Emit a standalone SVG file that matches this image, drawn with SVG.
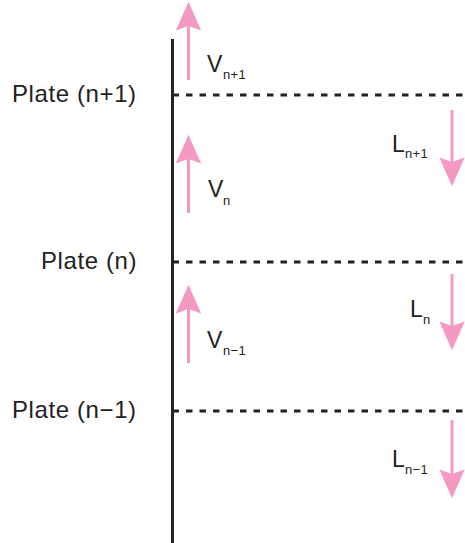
<svg xmlns="http://www.w3.org/2000/svg" width="465" height="543" viewBox="0 0 465 543">
  <defs>
    <marker id="head" markerUnits="userSpaceOnUse" markerWidth="30" markerHeight="30" viewBox="0 -12 26 24" refX="4" refY="0" orient="auto" overflow="visible">
      <path d="M25,0 L0,-11 L4,0 L0,11 Z" fill="#F49AC2"/>
    </marker>
  </defs>
  <style>
    .col { stroke: #222; stroke-width: 3; fill: none; }
    .plate { stroke: #222; stroke-width: 3; stroke-dasharray: 6.5 7; fill: none; }
    .flow { stroke: #F49AC2; stroke-width: 3; fill: none; marker-end: url(#head); }
    .lbl { font-family: "Liberation Sans", Arial, sans-serif; font-size: 24px; letter-spacing: 0.6px; fill: #222; }
    .sym { font-family: "Liberation Sans", Arial, sans-serif; font-size: 23px; fill: #222; }
    .sub { font-size: 13px; letter-spacing: 0.3px; }
  </style>
  <rect width="465" height="543" fill="#fff"/>

  <g id="column">
    <line class="col" x1="172.5" y1="39" x2="172.5" y2="543"/>
  </g>

  <g id="plate-n-plus-1">
    <line class="plate" x1="172.5" y1="95" x2="465" y2="95"/>
    <text class="lbl" x="12" y="102">Plate (n+1)</text>
  </g>
  <g id="plate-n">
    <line class="plate" x1="172.5" y1="262" x2="465" y2="262"/>
    <text class="lbl" x="41" y="269">Plate (n)</text>
  </g>
  <g id="plate-n-minus-1">
    <line class="plate" x1="172.5" y1="411" x2="465" y2="411"/>
    <text class="lbl" x="12" y="418">Plate (n−1)</text>
  </g>

  <g id="connectors">
    <line class="flow" x1="188.5" y1="80" x2="188.5" y2="26"/>
    <line class="flow" x1="188.5" y1="213" x2="188.5" y2="159"/>
    <line class="flow" x1="188.5" y1="363" x2="188.5" y2="309"/>
    <line class="flow" x1="452" y1="110" x2="452" y2="162"/>
    <line class="flow" x1="452" y1="274" x2="452" y2="326"/>
    <line class="flow" x1="452" y1="420" x2="452" y2="474"/>
  </g>

  <g id="label-V-n-plus-1">
    <text class="sym" x="207" y="72">V<tspan class="sub" x="223" y="79">n+1</tspan></text>
  </g>
  <g id="label-V-n">
    <text class="sym" x="208" y="197">V<tspan class="sub" x="223" y="205">n</tspan></text>
  </g>
  <g id="label-V-n-minus-1">
    <text class="sym" x="207" y="348">V<tspan class="sub" x="223" y="355">n−1</tspan></text>
  </g>
  <g id="label-L-n-plus-1">
    <text class="sym" x="392" y="152">L<tspan class="sub" x="405" y="158">n+1</tspan></text>
  </g>
  <g id="label-L-n">
    <text class="sym" x="410" y="317">L<tspan class="sub" x="423" y="324">n</tspan></text>
  </g>
  <g id="label-L-n-minus-1">
    <text class="sym" x="392" y="467">L<tspan class="sub" x="405" y="474">n−1</tspan></text>
  </g>
</svg>
